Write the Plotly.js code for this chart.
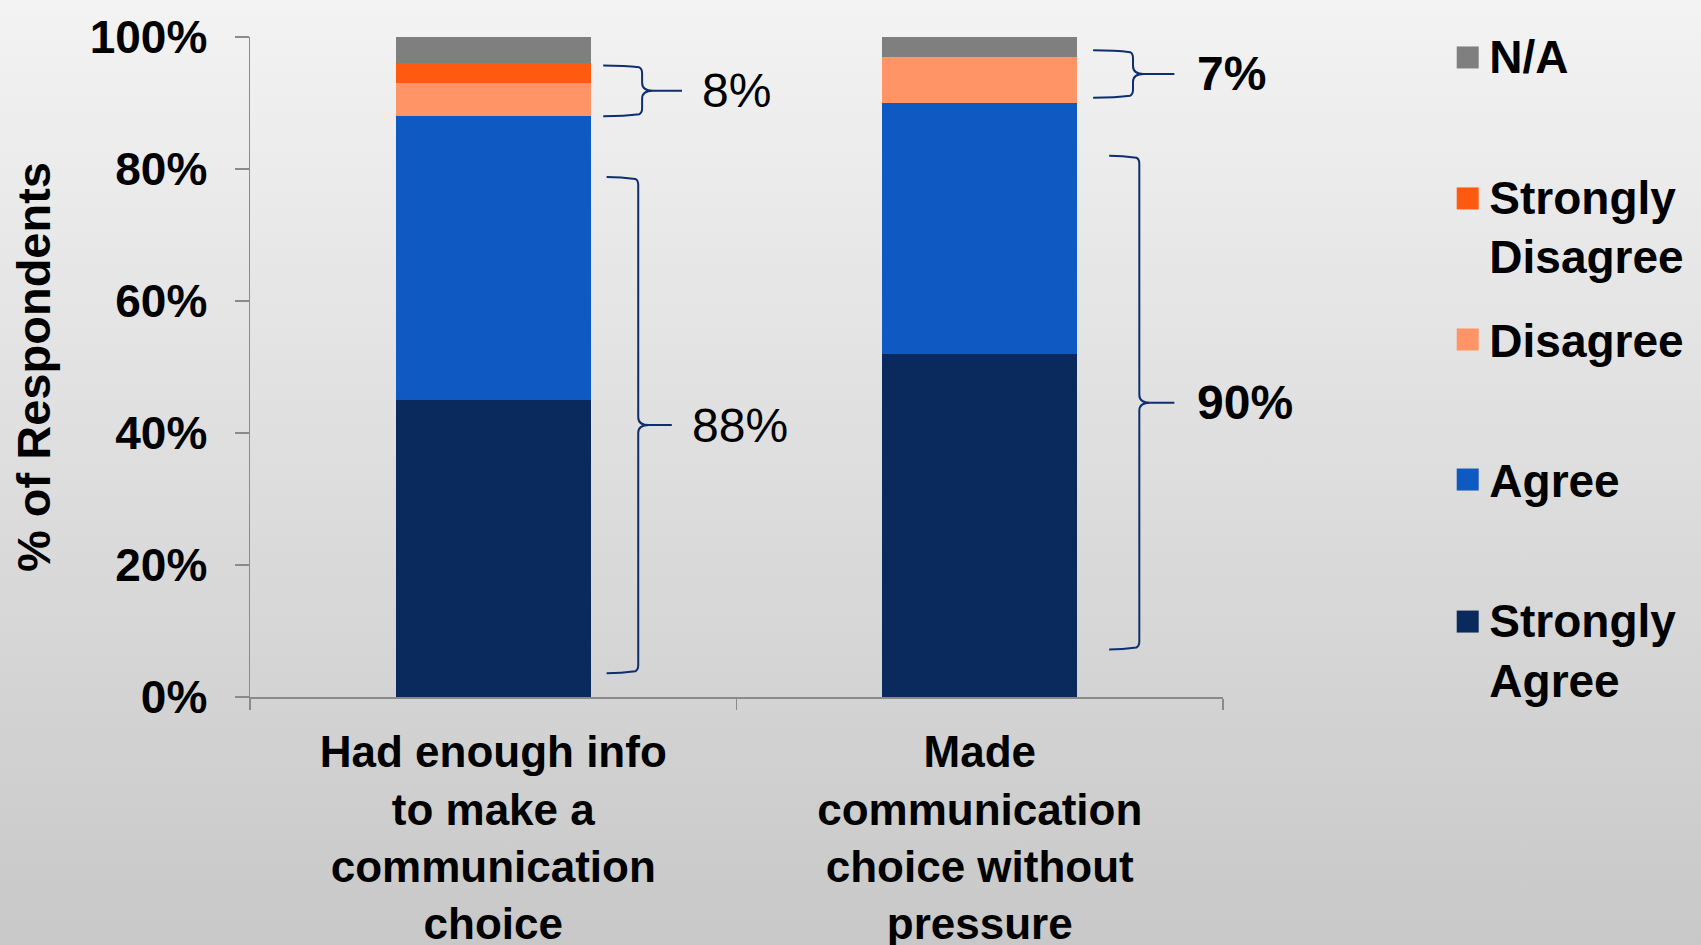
<!DOCTYPE html>
<html>
<head>
<meta charset="utf-8">
<script src="https://cdn.plot.ly/plotly-3.0.1.min.js"></script>
<style>
  html, body { margin: 0; padding: 0; }
  #chart { width: 1701px; height: 945px; background: linear-gradient(to bottom, #f3f3f3 0%, #c8c8c8 100%); }
</style>
</head>
<body>
<div id="chart"></div>
<script>
// ---- data ----
const categories = [
  "Had enough info<br>to make a<br>communication<br>choice",
  "Made<br>communication<br>choice without<br>pressure"
];
const seriesNames = ["Strongly<br>Agree", "Agree", "Disagree", "Strongly<br>Disagree", "N/A"];
const stronglyAgree = [45, 52];
const agree = [43, 38];
const disagree = [5, 7];
const stronglyDisagree = [3, 0];
const notApplicable = [4, 3];
const yTickValues = [0, 20, 40, 60, 80, 100];
const yTickText = ["0%", "20%", "40%", "60%", "80%", "100%"];

// bracket annotations
const bracketLabels = ["8%", "88%", "7%", "90%"];
const bracketCategory = [0, 0, 1, 1];
const bracketLow = [88, 3.6, 90.8, 7.2];
const bracketHigh = [95.7, 78.8, 98, 82];

// ---- styles / positions ----
const colors = ["#0a2a5e", "#0f59c2", "#ff9466", "#ff5a10", "#7f7f7f"];
const FONT = "Liberation Sans, Arial, sans-serif";
const bracketGeom = [ // offsets from category centre: left end, vertical, tip, label
  [0.226, 0.306, 0.388, 0.424],
  [0.233, 0.298, 0.367, 0.404],
  [0.233, 0.315, 0.400, 0.442],
  [0.266, 0.328, 0.400, 0.442]
];
const bracketBold = [false, false, true, true];
const legendY = [0.0727, 0.3295, 0.5417, 0.714, 0.972];
const legendSymbolY = [0.1143, 0.3295, 0.5417, 0.7554, 0.969];
const legendX = 1.2326;
const legendSymbolX = 1.2515;

const seriesValues = [stronglyAgree, agree, disagree, stronglyDisagree, notApplicable];
const traces = seriesValues.map((vals, i) => ({
  type: "bar",
  x: categories,
  y: vals,
  name: seriesNames[i],
  marker: { color: colors[i], line: { width: 0 } },
  legend: i === 0 ? "legend" : "legend" + (i + 1),
  hoverinfo: "skip"
}));

const shapes = [];
const annotations = [];
bracketLabels.forEach((lab, i) => {
  const c = bracketCategory[i];
  const g = bracketGeom[i];
  const xL = c + g[0], xV = c + g[1], xT = c + g[2];
  const yH = bracketHigh[i], yL = bracketLow[i], yM = (yH + yL) / 2;
  const r = 1.2, cx = 0.022, arm = 0.035;
  const p = [
    `M${xL},${yH}`, `Q${xV - arm},${yH} ${xV - 0.006},${yH - 0.3}`, `Q${xV},${yH - 0.5} ${xV},${yH - r}`,
    `L${xV},${yM + r}`, `Q${xV},${yM} ${xV + cx},${yM}`, `L${xT},${yM}`,
    `M${xV + cx},${yM}`, `Q${xV},${yM} ${xV},${yM - r}`,
    `L${xV},${yL + r}`, `Q${xV},${yL + 0.5} ${xV - 0.006},${yL + 0.3}`, `Q${xV - arm},${yL} ${xL},${yL}`
  ].join(" ");
  shapes.push({ type: "path", xref: "x", yref: "y", path: p, line: { color: "#0d2f6e", width: 2 } });
  annotations.push({
    xref: "x", yref: "y", x: c + g[3], y: yM, xanchor: "left", yanchor: "middle",
    text: lab, showarrow: false,
    font: { family: FONT, size: 48, color: "#000", weight: bracketBold[i] ? "bold" : "normal" }
  });
});

// enlarged legend swatches laid over the legend symbols
colors.forEach((col, i) => {
  shapes.push({
    type: "rect", xref: "paper", yref: "paper",
    xsizemode: "pixel", ysizemode: "pixel",
    xanchor: legendSymbolX, yanchor: legendSymbolY[i],
    x0: -11, x1: 11, y0: -11, y1: 11,
    fillcolor: col, line: { width: 0 }
  });
});

const legendFont = { family: FONT, size: 46, color: "#000", weight: "bold" };
const layout = {
  width: 1701, height: 945,
  paper_bgcolor: "rgba(0,0,0,0)", plot_bgcolor: "rgba(0,0,0,0)",
  margin: { l: 250, r: 475, t: 37, b: 248 },
  barmode: "stack", bargap: 0.6,
  showlegend: true,
  xaxis: {
    type: "category", range: [-0.5, 1.5], autorange: false,
    showline: true, linecolor: "#8a8a8a", linewidth: 1.5,
    ticks: "outside", tickson: "boundaries", ticklen: 11, tickcolor: "#8a8a8a", tickwidth: 1.5,
    tickfont: { family: FONT, size: 44, color: "#000", weight: "bold" },
    ticklabelstandoff: 16, showgrid: false, fixedrange: true
  },
  yaxis: {
    range: [0, 100], autorange: false, tickmode: "array", tickvals: yTickValues, ticktext: yTickText,
    showline: true, linecolor: "#8a8a8a", linewidth: 1.5,
    ticks: "outside", ticklen: 14, tickcolor: "#8a8a8a", tickwidth: 1.5,
    tickfont: { family: FONT, size: 46, color: "#000", weight: "bold" },
    ticklabelstandoff: 18, showgrid: false, zeroline: false, fixedrange: true,
    title: { text: "% of Respondents", font: { family: FONT, size: 47, color: "#000", weight: "bold" }, standoff: 24 }
  },
  shapes: shapes,
  annotations: annotations
};
legendY.forEach((y, i) => {
  const key = i === 0 ? "legend" : "legend" + (i + 1);
  layout[key] = {
    x: legendX, y: y, xanchor: "left", yanchor: "middle",
    bgcolor: "rgba(0,0,0,0)", borderwidth: 0, font: legendFont, valign: "top",
    itemclick: false, itemdoubleclick: false
  };
});

Plotly.newPlot("chart", traces, layout, { displayModeBar: false, staticPlot: true });
</script>
</body>
</html>
